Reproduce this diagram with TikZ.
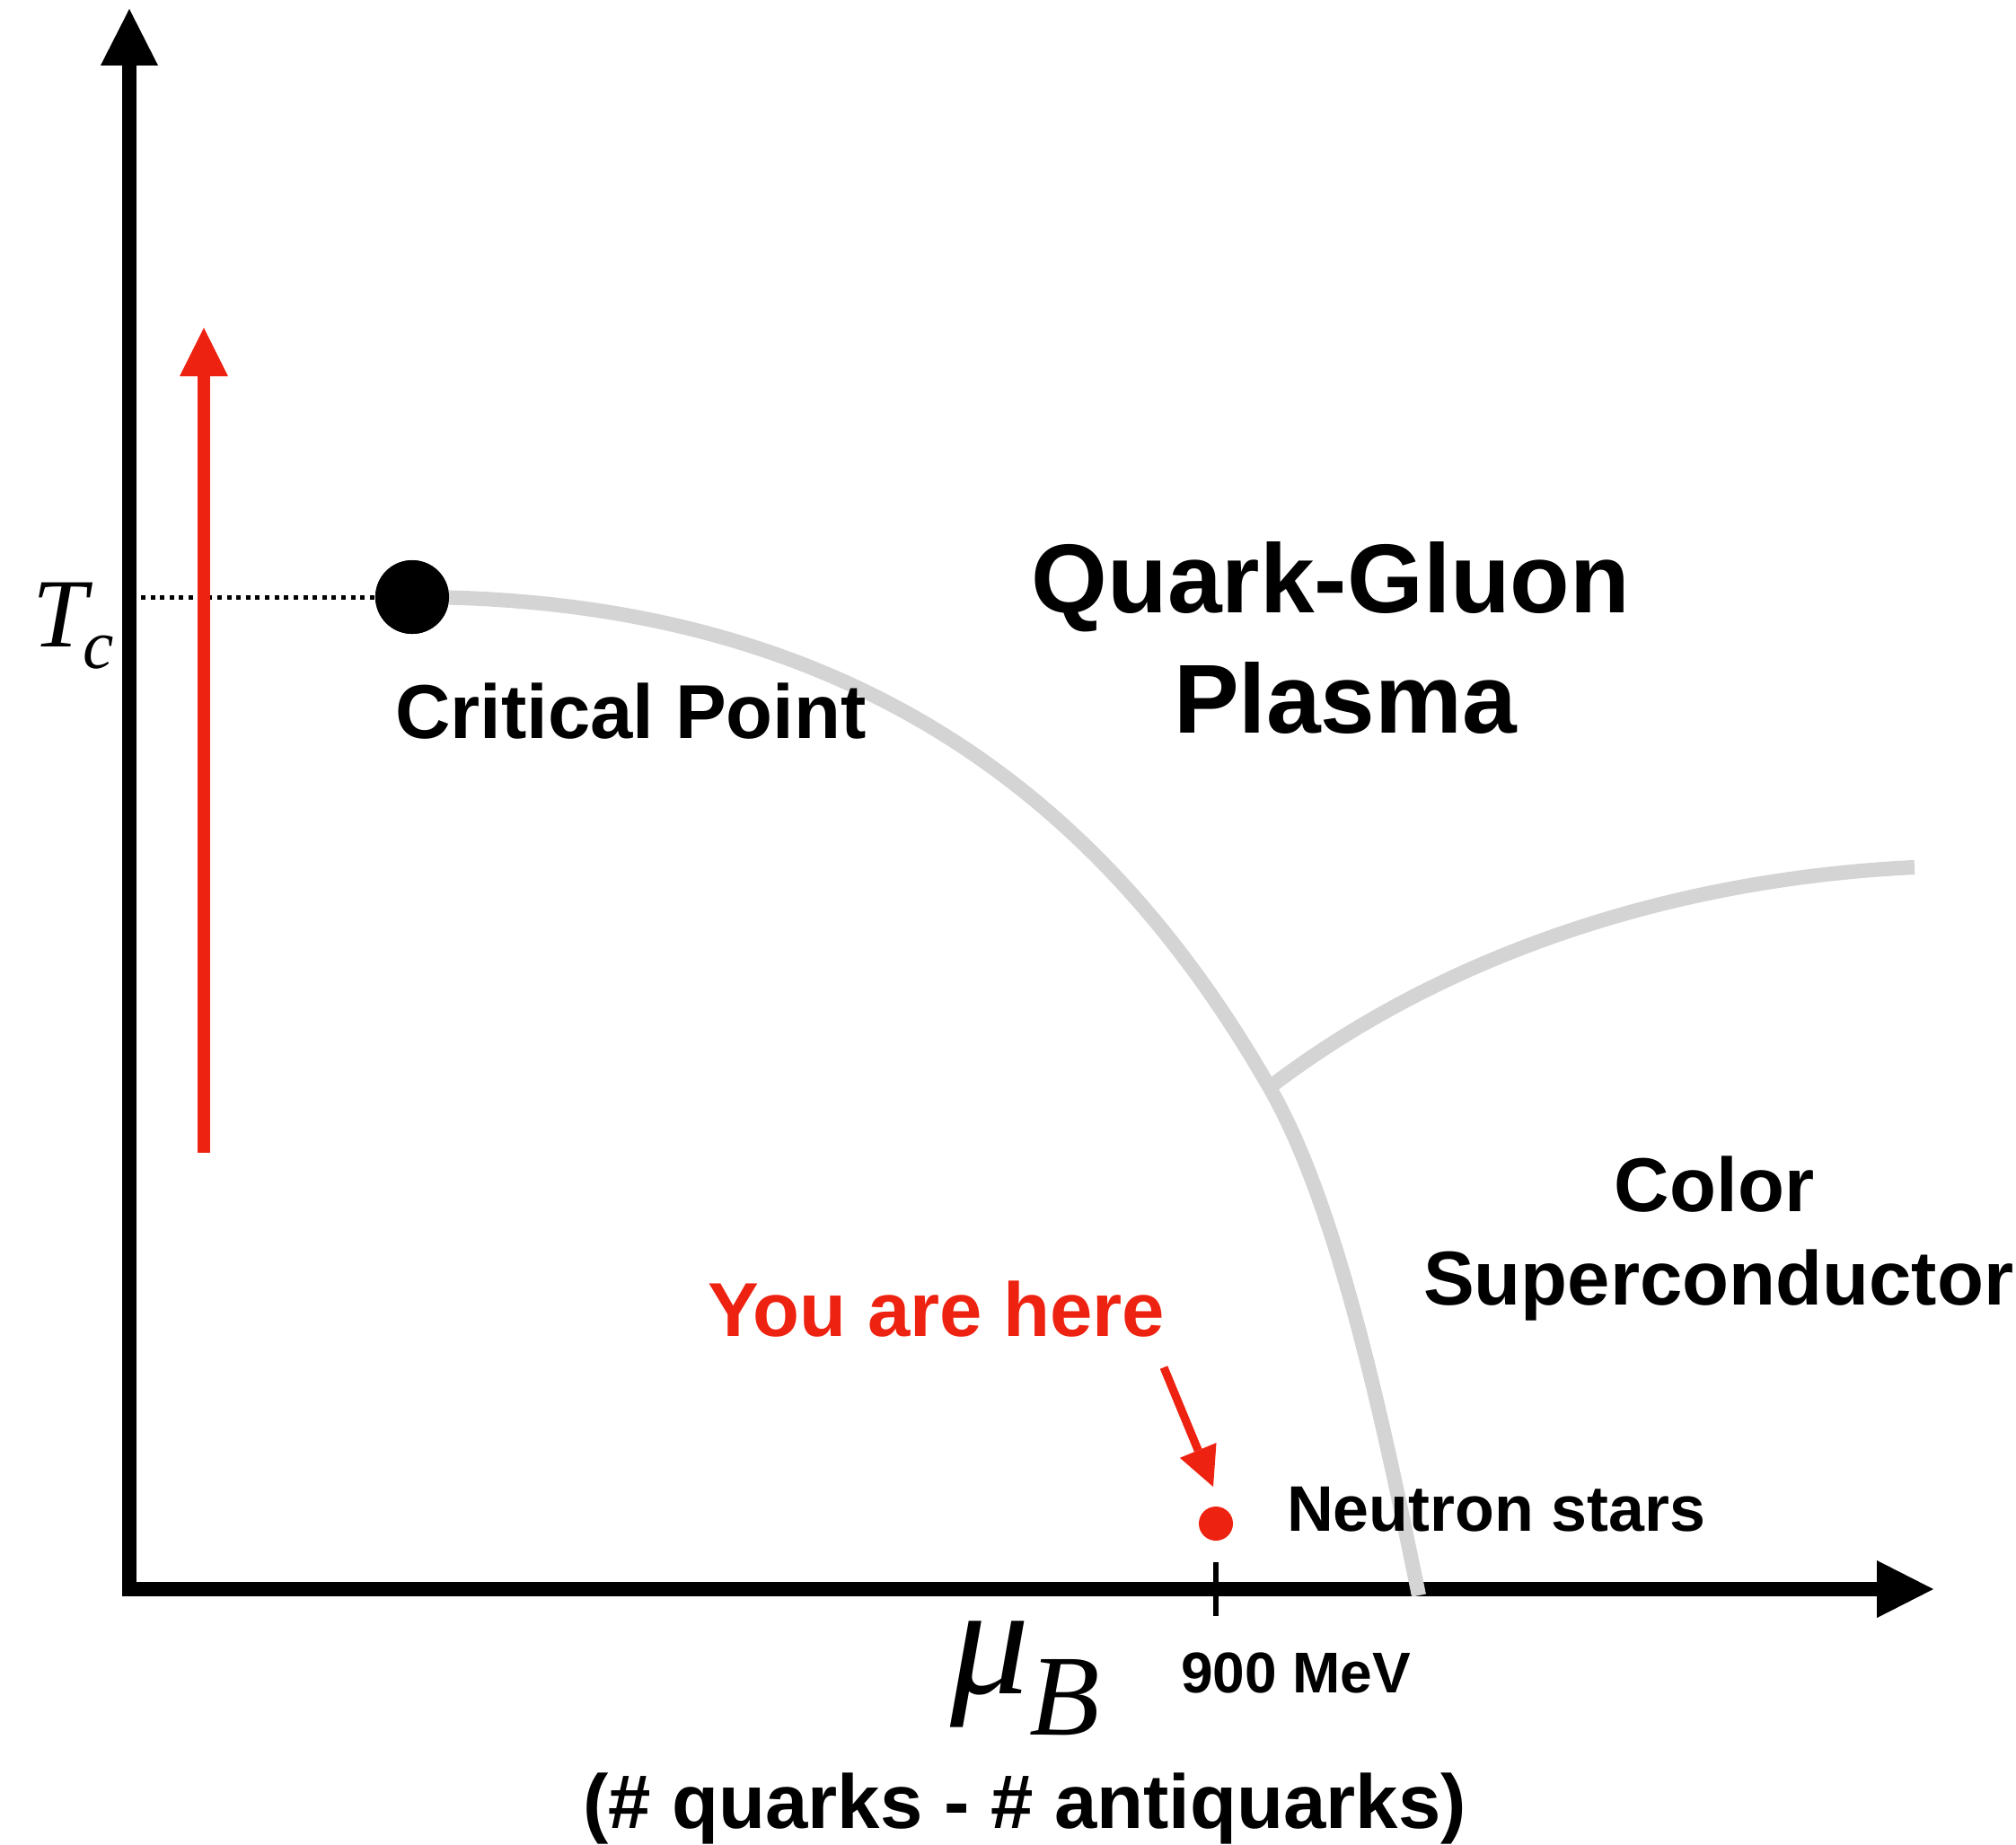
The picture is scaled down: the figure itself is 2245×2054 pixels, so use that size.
\documentclass[tikz,border=0pt]{standalone}
\usepackage{fontspec}
\setmainfont{Liberation Sans}
\newfontfamily\tmsfont{Liberation Serif}
\usetikzlibrary{arrows.meta}
\definecolor{qred}{RGB}{238,34,17}
\definecolor{qgray}{RGB}{212,212,212}
\begin{document}
\begin{tikzpicture}[x=0.01cm,y=-0.01cm,
  axisline/.style={line width=4.55pt, black, -{Triangle[length=17.9pt,width=18.2pt,line width=0pt]}},
  bigred/.style={line width=3.7pt, qred, -{Triangle[length=15.4pt,width=15.4pt,line width=0pt]}},
  smallred/.style={line width=2.6pt, qred, -{Triangle[length=12.5pt,width=12.5pt,line width=0pt]}},
  phase/.style={line width=4.6pt, qgray, line cap=butt},
  tcline/.style={line width=1.42pt, black, dash pattern=on 1.42pt off 1.6pt},
  tickline/.style={line width=1.5pt, black},
  lbl/.style={inner sep=0pt, outer sep=0pt},
  bold24/.style={lbl, font=\bfseries\fontsize{24.2}{29}\selectfont},
  bold31/.style={lbl, font=\bfseries\fontsize{31}{37}\selectfont},
  dot/.style={circle, inner sep=0pt, outer sep=0pt, fill=#1}
]
\useasboundingbox (0,0) rectangle (2245,2054);

% axes
\coordinate (ybot) at (144,1778);
\coordinate (ytip) at (144,10);
\coordinate (xleft) at (136,1770);
\coordinate (xtip) at (2153,1770);
\draw[axisline] (ybot) -- (ytip);
\draw[axisline] (xleft) -- (xtip);

% tick at 900 MeV
\coordinate (tick1) at (1354,1740);
\coordinate (tick2) at (1354,1800);
\draw[tickline] (tick1) -- (tick2);

% critical point dot (placed first so curves can refer to it)
\node[dot=black, minimum size=0.82cm] (cpdot) at (459,665) {};

% phase boundaries
\coordinate (junc) at (1413,1210);
\coordinate (mainend) at (1580,1777);
\coordinate (csend) at (2132,966);
\draw[phase] (cpdot.center) .. controls (979,665) and (1248,923) .. (junc)
  .. controls (1490,1343) and (1540,1583) .. (mainend);
\draw[phase] (1410,1214) .. controls (1590,1075) and (1840,980) .. (csend);

% Tc dotted line
\coordinate (tcstart) at (157,665);
\draw[tcline] (tcstart) -- (cpdot.west);

% big red arrow
\coordinate (ra0) at (227,1284);
\coordinate (ra1) at (227,365);
\draw[bigred] (ra0) -- (ra1);

% redraw critical dot on top
\node[dot=black, minimum size=0.82cm] at (cpdot.center) {};

% neutron star dot and arrow
\node[dot=qred, minimum size=0.38cm] (nsdot) at (1354,1697) {};
\coordinate (sa0) at (1296,1523);
\coordinate (sa1) at (1351,1656);
\draw[smallred] (sa0) -- (sa1);

% labels
\node[lbl, anchor=base west] (tc) at (36,720)
  {{\tmsfont\itshape\fontsize{31}{32}\selectfont T}\kern-1.2pt\raisebox{-7.1pt}{\tmsfont\itshape\fontsize{22}{23}\selectfont c}};
\node[bold24, anchor=base west] (cp) at (440,822) {Critical Point};
\node[bold31, anchor=base] (qg1) at (1482,682) {Quark-Gluon};
\node[bold31, anchor=base] (qg2) at (1498,816) {Plasma};
\node[bold24, anchor=base] (cs1) at (1909,1349) {Color};
\node[bold24, anchor=base west] (cs2) at (1585,1453) {Superconductor};
\node[bold24, anchor=base west, text=qred] (yah) at (788,1488) {You are here};
\node[lbl, anchor=base west, font=\bfseries\fontsize{20.4}{24}\selectfont] (ns) at (1433,1705) {Neutron stars};
\node[lbl, anchor=base west, font=\bfseries\fontsize{18.2}{22}\selectfont] (mev) at (1315,1885) {900 MeV};
\node[lbl, anchor=base west] (mub) at (1058,1886)
  {{\tmsfont\itshape\fontsize{50}{51}\selectfont μ}\raisebox{-13.1pt}{\tmsfont\itshape\fontsize{36.5}{37}\selectfont B}};
\node[bold24, anchor=base] (cnt) at (1141,2036) {(\# quarks - \# antiquarks)};
\end{tikzpicture}
\end{document}
